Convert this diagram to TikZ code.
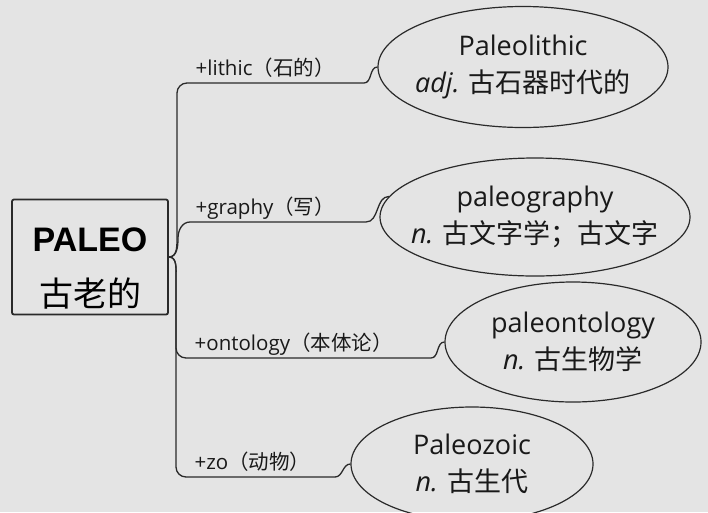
\documentclass[tikz,border=0pt]{standalone}
\usepackage{fontspec}
\setmainfont{Open Sans}
\newfontfamily\cjk{Noto Sans CJK SC}
\newfontfamily\headfont{Liberation Sans}
\usepackage{xcolor}
\usepackage{tikz}
\usetikzlibrary{shapes.geometric}

\definecolor{paper}{HTML}{E4E4E4}
\definecolor{ink}{HTML}{2A2A2A}

\begin{document}
\begin{tikzpicture}[x=1pt, y=-1pt,
  root/.style   = {rectangle, rounded corners=2pt, draw=ink, line width=1.8pt,
                   minimum width=156pt, minimum height=115pt, align=center,
                   inner sep=0pt, text=black, font=\fontsize{34}{44}\selectfont},
  word/.style   = {ellipse, draw=ink, line width=1.2pt, inner sep=0pt},
  wordtxt/.style= {align=center, inner sep=0pt, text=black!90,
                   font=\fontsize{27}{37}\selectfont},
  branch/.style = {draw=ink, line width=1.3pt},
  lbl/.style    = {font=\fontsize{20.5}{24}\selectfont, text=black!90,
                   anchor=base west, inner sep=0pt, xshift=8pt, yshift=7.5pt},
]
  \fill[paper] (0,0) rectangle (708,512);
  \useasboundingbox (0,0) rectangle (708,512);

  % root word
  \node[root] (paleo) at (90,257) {
    \rule{0pt}{47pt}{\headfont\bfseries PALEO}\\[11pt]
    {\cjk 古老的}
  };

  % derived words
  \node[word, minimum width=290pt, minimum height=121pt] (lithic) at (523,67) {};
  \node[wordtxt] (lithic-txt) at (lithic) {
    Paleolithic\\
    \textit{adj.} {\cjk 古石器时代的}
  };
  \node[word, minimum width=310pt, minimum height=118pt] (graphy) at (535,217) {};
  \node[wordtxt] (graphy-txt) at (graphy) {
    paleography\\
    \textit{n.} {\cjk 古文字学；古文字}
  };
  \node[word, minimum width=256pt, minimum height=120pt] (ontology) at (573,342) {};
  \node[wordtxt] (ontology-txt) at (ontology) {
    paleontology\\
    \textit{n.} {\cjk 古生物学}
  };
  \node[word, minimum width=242pt, minimum height=114pt] (zoic) at (472,464) {};
  \node[wordtxt] (zoic-txt) at (zoic) {
    Paleozoic\\
    \textit{n.} {\cjk 古生代}
  };

  % branches
  \draw[branch] (paleo.east) to[out=0, in=-90] (177,236) -- (177,93)
    to[out=90, in=180] (187,83)
    -- node[lbl, pos=0] {+lithic{\cjk （石的）}} (364,83)
    to[out=0, in=180] (lithic.west);
  \draw[branch] (paleo.east) to[out=0, in=-90] (178,238)
    to[out=90, in=180] (190,222)
    -- node[lbl, pos=0, xshift=-3pt] {+graphy{\cjk （写）}} (366,222)
    to[out=0, in=180] (graphy.172);
  \draw[branch] (paleo.east) to[out=0, in=90] (176,276) -- (176,348)
    to[out=-90, in=180] (186,358)
    -- node[lbl, pos=0] {+ontology{\cjk （本体论）}} (431,358)
    to[out=0, in=180] (ontology.west);
  \draw[branch] (paleo.east) to[out=0, in=90] (176,278) -- (176,467)
    to[out=-90, in=180] (186,477)
    -- node[lbl, pos=0] {+zo{\cjk （动物）}} (335,477)
    to[out=0, in=180] (zoic.west);
\end{tikzpicture}
\end{document}
